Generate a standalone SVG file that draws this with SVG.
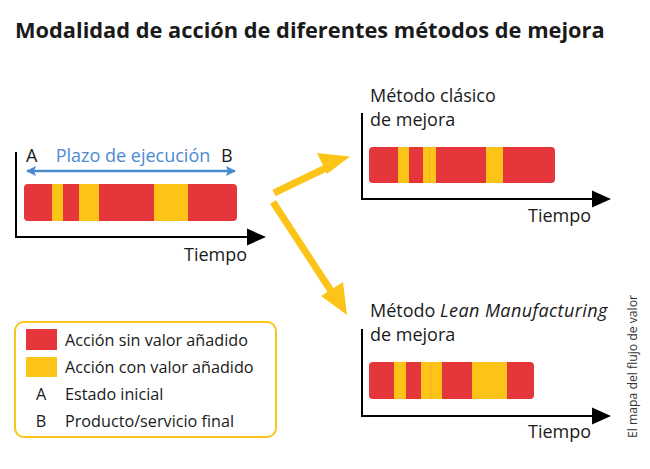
<svg xmlns="http://www.w3.org/2000/svg" width="650" height="469" viewBox="0 0 650 469">
<style>
text{font-family:"Open Sans","Noto Sans","Liberation Sans",sans-serif;fill:#1a1a1a}
.t{font-size:18px}
.lg{font-size:16.2px}
.ax{stroke:#000;stroke-width:2;fill:none}
.red{fill:#e5363b}
.yel{fill:#fcc419}
.sep{stroke:#f2a81d;stroke-width:0.8}
.ya{stroke:#fcc419;stroke-width:7;fill:none}
</style>
<defs>
<marker id="blue" viewBox="0 0 10 10" refX="9" refY="5" markerWidth="10" markerHeight="10" markerUnits="userSpaceOnUse" orient="auto-start-reverse"><path d="M0,0L10,5L0,10L2,5z" fill="#4a8bd0"/></marker>
</defs>
<rect width="650" height="469" fill="#fff"/>
<text x="15" y="38" style="font-size:21.8px;font-weight:700">Modalidad de acción de diferentes métodos de mejora</text>

<g id="original">
<path class="ax" d="M16,152V237H248"/>
<path d="M266,237L247,228.5L247,245.5z" fill="#000"/>
<rect x="24" y="184" width="213" height="37" rx="4" class="red"/>
<rect x="52" y="184" width="11" height="37" class="yel"/>
<rect x="79" y="184" width="20" height="37" class="yel"/>
<rect x="154" y="184" width="34" height="37" class="yel"/>
<line x1="27" y1="171" x2="235" y2="171" stroke="#4a8bd0" stroke-width="2.5" marker-start="url(#blue)" marker-end="url(#blue)"/>
<text x="26" y="162" class="t">A</text>
<text x="221" y="162" class="t">B</text>
<text x="133" y="162" class="t" text-anchor="middle" style="fill:#4a8bd0">Plazo de ejecución</text>
<text x="184" y="261" class="t">Tiempo</text>
</g>

<g id="clasico">
<path class="ax" d="M362,113V199H594"/>
<path d="M611,199L592,190.5L592,207.5z" fill="#000"/>
<text class="t"><tspan x="370" y="102">Método clásico</tspan><tspan x="370" y="126">de mejora</tspan></text>
<rect x="369" y="147" width="186" height="36" rx="4" class="red"/>
<rect x="398" y="147" width="11" height="36" class="yel"/>
<rect x="423" y="147" width="13" height="36" class="yel"/>
<line x1="429.5" y1="147" x2="429.5" y2="183" class="sep"/>
<rect x="486" y="147" width="17" height="36" class="yel"/>
<text x="528" y="222" class="t">Tiempo</text>
</g>

<g id="lean">
<path class="ax" d="M362,329V416H594"/>
<path d="M611,416L592,407.5L592,424.5z" fill="#000"/>
<text class="t"><tspan x="370" y="317">Método <tspan font-style="italic" letter-spacing="0.4">Lean Manufacturing</tspan></tspan><tspan x="370" y="341">de mejora</tspan></text>
<rect x="369" y="362" width="165" height="37" rx="4" class="red"/>
<rect x="394" y="362" width="12" height="37" class="yel"/>
<rect x="421" y="362" width="21" height="37" class="yel"/>
<line x1="431" y1="362" x2="431" y2="399" class="sep"/>
<rect x="472" y="362" width="35" height="37" class="yel"/>
<text x="528" y="438" class="t">Tiempo</text>
</g>

<g id="connectors">
<line x1="274" y1="193" x2="330" y2="166" class="ya"/>
<path d="M350,156.5L317,153L327,174z" fill="#fcc419"/>
<line x1="273" y1="202" x2="335" y2="297" class="ya"/>
<path d="M347,315L321,296L343,282z" fill="#fcc419"/>
</g>

<g id="legend">
<rect x="15" y="322" width="261" height="115" rx="9" fill="#fff" stroke="#fcc419" stroke-width="2"/>
<rect x="26" y="329" width="31" height="21" class="red"/>
<rect x="26" y="357" width="31" height="20" class="yel"/>
<text x="65" y="346" class="lg">Acción sin valor añadido</text>
<text x="65" y="373" class="lg">Acción con valor añadido</text>
<text x="41" y="400" class="lg" text-anchor="middle">A</text>
<text x="65" y="400" class="lg">Estado inicial</text>
<text x="41" y="427" class="lg" text-anchor="middle">B</text>
<text x="65" y="427" class="lg">Producto/servicio final</text>
</g>

<text transform="translate(637,438) rotate(-90)" style="font-size:12.2px;fill:#333">El mapa del flujo de valor</text>
</svg>
